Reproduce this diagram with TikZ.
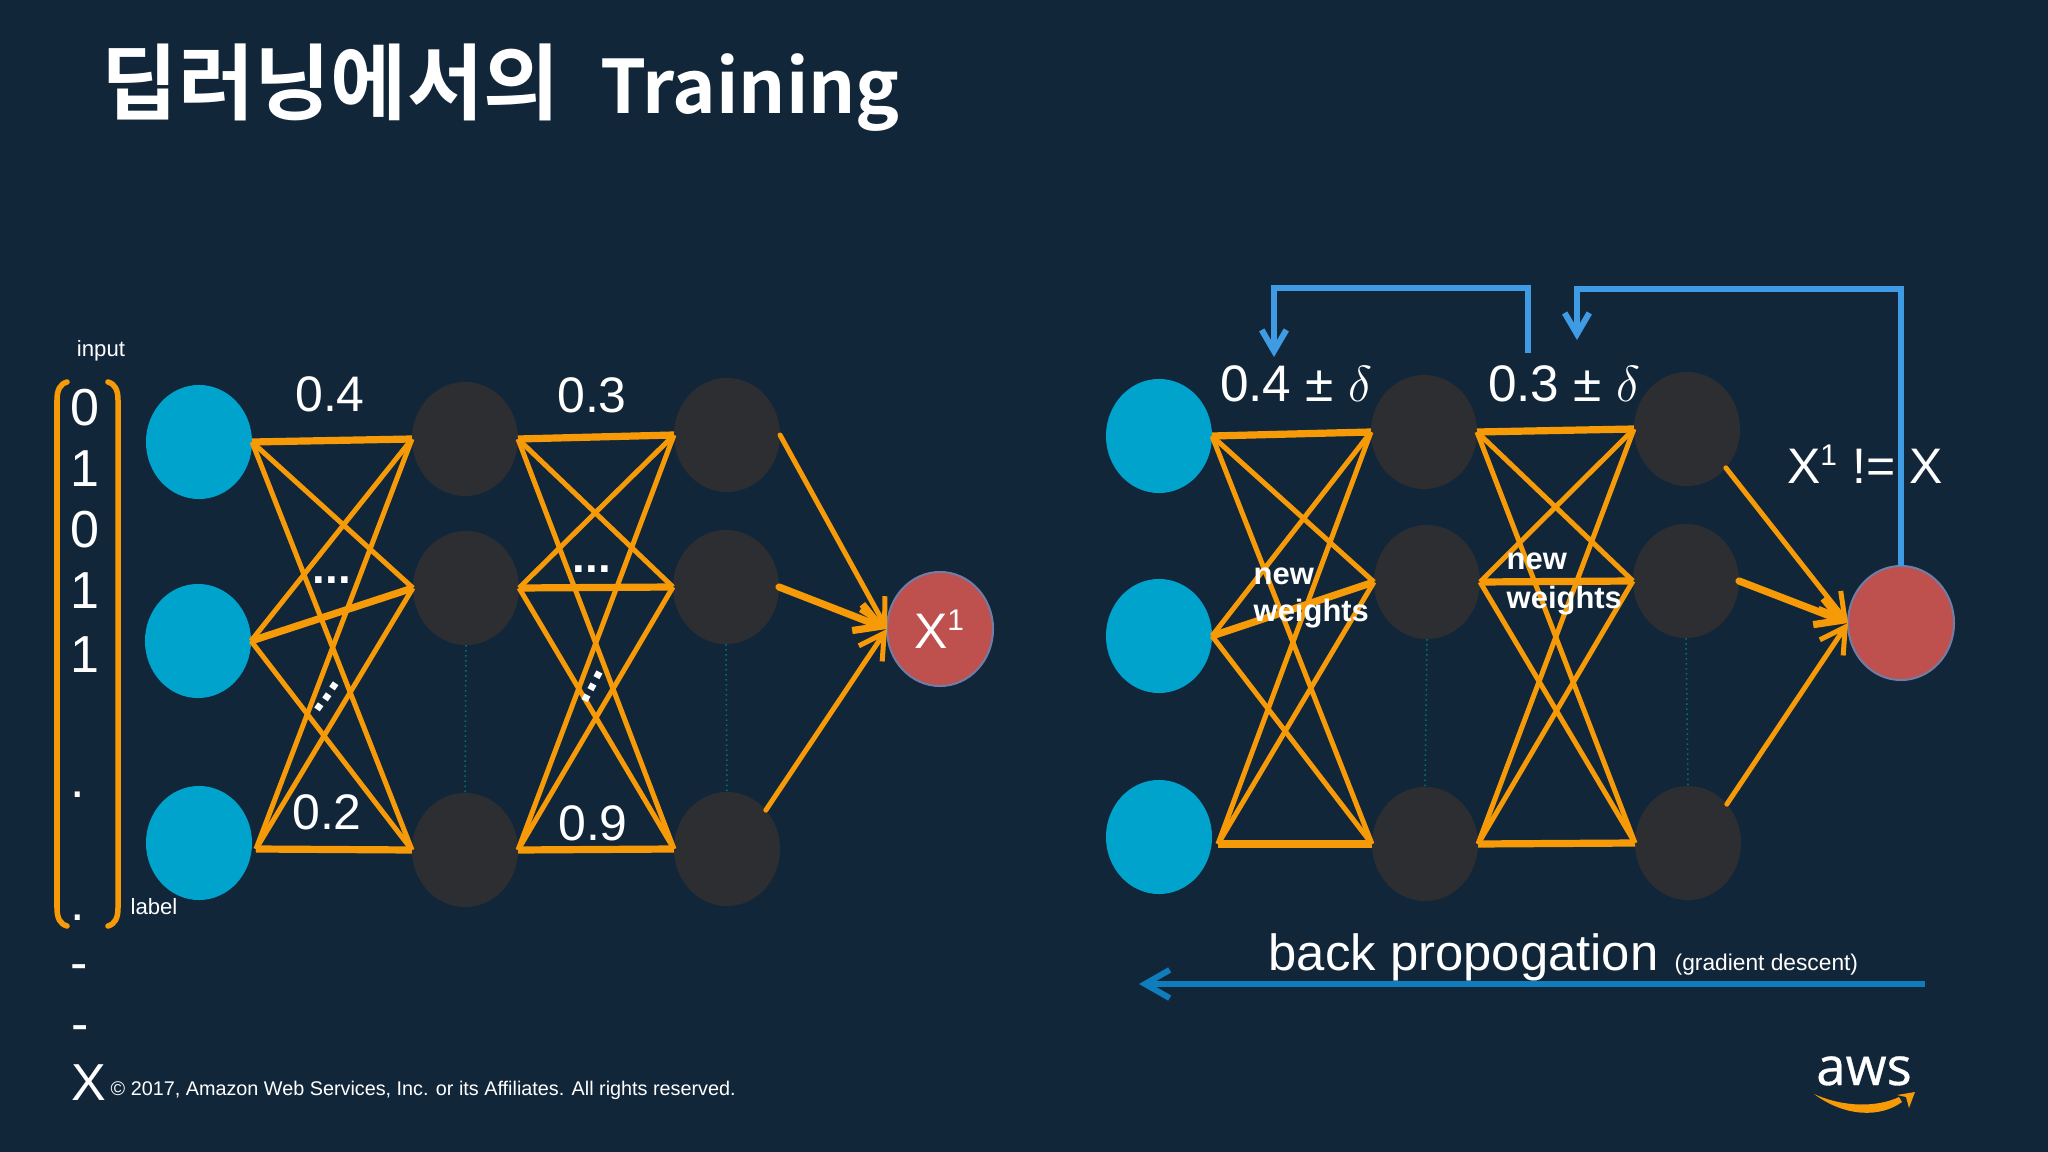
\documentclass[tikz,border=0pt]{standalone}
\usepackage{fontspec}
\setmainfont{Liberation Sans}
\newfontfamily\krfont{Noto Sans CJK KR}[BoldFont={Noto Sans CJK KR Bold}]
\newfontfamily\awsfont{Open Sans}[FakeBold=0.6]
\usetikzlibrary{arrows.meta,shapes.geometric}
\definecolor{bgnavy}{HTML}{12263A}
\definecolor{inblue}{HTML}{00A3CC}
\definecolor{hiddark}{HTML}{2C2E31}
\definecolor{outred}{HTML}{BE504D}
\definecolor{wire}{HTML}{F79A08}
\definecolor{backblue}{HTML}{3F9BE3}
\definecolor{gradblue}{HTML}{0F7DBB}
\newcommand{\supone}{\textsuperscript{\fontsize{8.5}{9}\selectfont 1}}
\tikzset{
  inode/.style={ellipse,fill=inblue,minimum width=1.06cm,minimum height=1.14cm,inner sep=0,outer sep=0},
  hnode/.style={inode,fill=hiddark},
  onode/.style={inode,fill=outred,draw=backblue!60!outred,line width=.02cm,text=white,font=\fontsize{14.2}{16}\selectfont},
  wireline/.style={draw=wire,line width=.05cm},
  wirethick/.style={draw=wire,line width=.072cm},
  wirearrow/.style={-{Straight Barb[length=7pt,width=8pt]},line cap=round},
  dotline/.style={draw=teal!85!bgnavy,line width=.015cm,densely dotted},
  bracketline/.style={draw=wire,line width=.055cm,line cap=round},
  backline/.style={draw=backblue,line width=.06cm,-{Straight Barb[length=6pt,width=7pt]}},
  txt/.style={text=white,inner sep=0,font=\fontsize{14.2}{16}\selectfont},
  vec/.style={txt,font=\fontsize{14.8}{16}\selectfont},
  small/.style={txt,font=\fontsize{6.3}{8}\selectfont},
  neww/.style={txt,anchor=base west,font=\fontsize{8.8}{10}\selectfont\bfseries},
  dots/.style={txt,font=\fontsize{13}{14}\selectfont\bfseries},
  delt/.style={txt,font=\fontsize{14.6}{16}\selectfont},
}
\begin{document}
\begin{tikzpicture}[x=.01cm,y=-.01cm]
  \useasboundingbox (0,0) rectangle (2048,1152);
  \fill[bgnavy] (0,0) rectangle (2048,1152);

  \node[txt,anchor=base west,font=\krfont\bfseries] (title) at (101,114) {\fontsize{23.6}{26}\selectfont 딥러닝에서의\hspace{.26em} \fontsize{21}{26}\selectfont Training};

  % left network
  \node[inode] (ina) at (199,442) {};
  \node[inode] (inb) at (198,641) {};
  \node[inode] (inc) at (199,843) {};
  \node[hnode] (ha) at (465,439) {};
  \node[hnode] (hb) at (466,588) {};
  \node[hnode] (hc) at (465,850) {};
  \node[hnode] (ka) at (727,435) {};
  \node[hnode] (kb) at (726,587) {};
  \node[hnode] (kc) at (727,849) {};
  \node[onode] (out) at (940,629) {X\supone};
  \coordinate (incp) at (256,849);

  \draw[dotline] (hb.south) -- (hc.north);
  \draw[dotline] (kb.south) -- (kc.north);

  \foreach \a in {ina.east,inb.east,incp}
    \foreach \b in {ha.west,hb.west,hc.west}
      \draw[wireline] (\a) -- (\b);
  \foreach \a in {ha.east,hb.east,hc.east}
    \foreach \b in {ka.west,kb.west,kc.west}
      \draw[wireline] (\a) -- (\b);
  \draw[wirethick] (ina.east) -- (ha.west);
  \draw[wirethick] (inb.east) -- (hb.west);
  \draw[wirethick] (incp) -- (hc.west);
  \draw[wirethick] (ha.east) -- (ka.west);
  \draw[wirethick] (hb.east) -- (kb.west);
  \draw[wirethick] (hc.east) -- (kc.west);

  \draw[wireline,wirearrow] (ka.east) -- (out.west);
  \draw[wirethick,wirearrow] (kb.east) -- (out.west);
  \draw[wireline,wirearrow] (kc.45) -- (out.west);

  \node[txt] (wa) at (330,394) {0.4};
  \node[txt] (wb) at (592,395) {0.3};
  \node[txt] (wc) at (327,812) {0.2};
  \node[txt] (wd) at (593,823) {0.9};
  \node[dots] (da) at (332,580) {...};
  \node[dots,rotate=55] (db) at (327,697) {...};
  \node[dots] (dc) at (592,569) {...};
  \node[dots,rotate=62] (dd) at (592,687) {...};

  % input vector
  \node[small] (input) at (101,351) {input};
  \node[small] (lab) at (154,907) {label};
  \node[vec] (va) at (85,408) {0};
  \node[vec] (vb) at (85,469) {1};
  \node[vec] (vc) at (85,530) {0};
  \node[vec] (vd) at (85,591) {1};
  \node[vec] (ve) at (85,655) {1};
  \node[vec,anchor=base] (vf) at (78,797) {.};
  \node[vec,anchor=base] (vg) at (78,920) {.};
  \node[vec,anchor=base] (vh) at (79,980) {-};
  \node[vec,anchor=base] (vi) at (80,1041) {-};
  \node[vec] (vx) at (89,1083) {X};
  \draw[bracketline] (67,382) .. controls (60,384) and (57,390) .. (57,400) -- (57,908) .. controls (57,918) and (60,924) .. (67,926);
  \draw[bracketline] (108,382) .. controls (115,384) and (118,390) .. (118,400) -- (118,908) .. controls (118,918) and (115,924) .. (108,926);

  % right network
  \node[inode] (inar) at (1159,436) {};
  \node[inode] (inbr) at (1159,636) {};
  \node[inode] (incr) at (1159,837) {};
  \node[hnode] (har) at (1424,432) {};
  \node[hnode] (hbr) at (1427,582) {};
  \node[hnode] (hcr) at (1425,844) {};
  \node[hnode] (kar) at (1687,429) {};
  \node[hnode] (kbr) at (1686,581) {};
  \node[hnode] (kcr) at (1688,843) {};
  \node[onode] (outr) at (1901,623) {};
  \coordinate (incpr) at (1218,844);

  \draw[dotline] (hbr.south) -- (hcr.north);
  \draw[dotline] (kbr.south) -- (kcr.north);

  \foreach \a in {inar.east,inbr.east,incpr}
    \foreach \b in {har.west,hbr.west,hcr.west}
      \draw[wireline] (\a) -- (\b);
  \foreach \a in {har.east,hbr.east,hcr.east}
    \foreach \b in {kar.west,kbr.west,kcr.west}
      \draw[wireline] (\a) -- (\b);
  \draw[wirethick] (inar.east) -- (har.west);
  \draw[wirethick] (inbr.east) -- (hbr.west);
  \draw[wirethick] (incpr) -- (hcr.west);
  \draw[wirethick] (har.east) -- (kar.west);
  \draw[wirethick] (hbr.east) -- (kbr.west);
  \draw[wirethick] (hcr.east) -- (kcr.west);

  \draw[wireline,wirearrow] (kar.-45) -- (outr.west);
  \draw[wirethick,wirearrow] (kbr.east) -- (outr.west);
  \draw[wireline,wirearrow] (kcr.45) -- (outr.west);

  \node[delt] (wr) at (1296,384) {0.4 ± $\delta$};
  \node[delt] (ws) at (1564,384) {0.3 ± $\delta$};
  \node[neww] (nwa) at (1253,584) {new};
  \node[neww] (nwb) at (1253,621) {weights};
  \node[neww] (nwc) at (1506,570) {new};
  \node[neww] (nwd) at (1506,608) {weights};
  \node[txt] (neq) at (1865,464) {X\supone{} != X};

  % feedback arrows
  \coordinate (fba) at (1528,353);
  \coordinate (tipa) at (1274,357);
  \coordinate (tipb) at (1577,340);
  \draw[backline] (fba) -- (1528,288) -- (1274,288) -- (tipa);
  \draw[backline] (outr.north) -- (1901,289) -- (1577,289) -- (tipb);

  % back propagation arrow
  \coordinate (gda) at (1925,984);
  \coordinate (gdb) at (1139,984);
  \draw[draw=gradblue,line width=.06cm,-{Straight Barb[length=7pt,width=8pt]}] (gda) -- (gdb);
  \node[txt,anchor=base west,font=\fontsize{14.45}{16}\selectfont] (bp) at (1268,970) {back propogation};
  \node[small,anchor=base west,font=\fontsize{6.47}{8}\selectfont] (gd) at (1674,970) {(gradient descent)};

  % footer
  \node[small,anchor=base west,font=\fontsize{5.63}{8}\selectfont] (copy) at (110,1095) {© 2017, Amazon Web Services, Inc. or its Affiliates. All rights reserved.};
  \node[txt,anchor=base,font=\fontsize{15}{16}\awsfont] (aws) at (1864,1085) {aws};
  \fill[wire] (1814,1094) .. controls (1845,1117) and (1880,1118) .. (1902,1102) -- (1899,1097) .. controls (1878,1107) and (1845,1108) .. (1814,1094) -- cycle;
  \fill[wire] (1897,1095) -- (1915,1092) -- (1909,1108) -- (1906,1097) -- cycle;
\end{tikzpicture}
\end{document}
